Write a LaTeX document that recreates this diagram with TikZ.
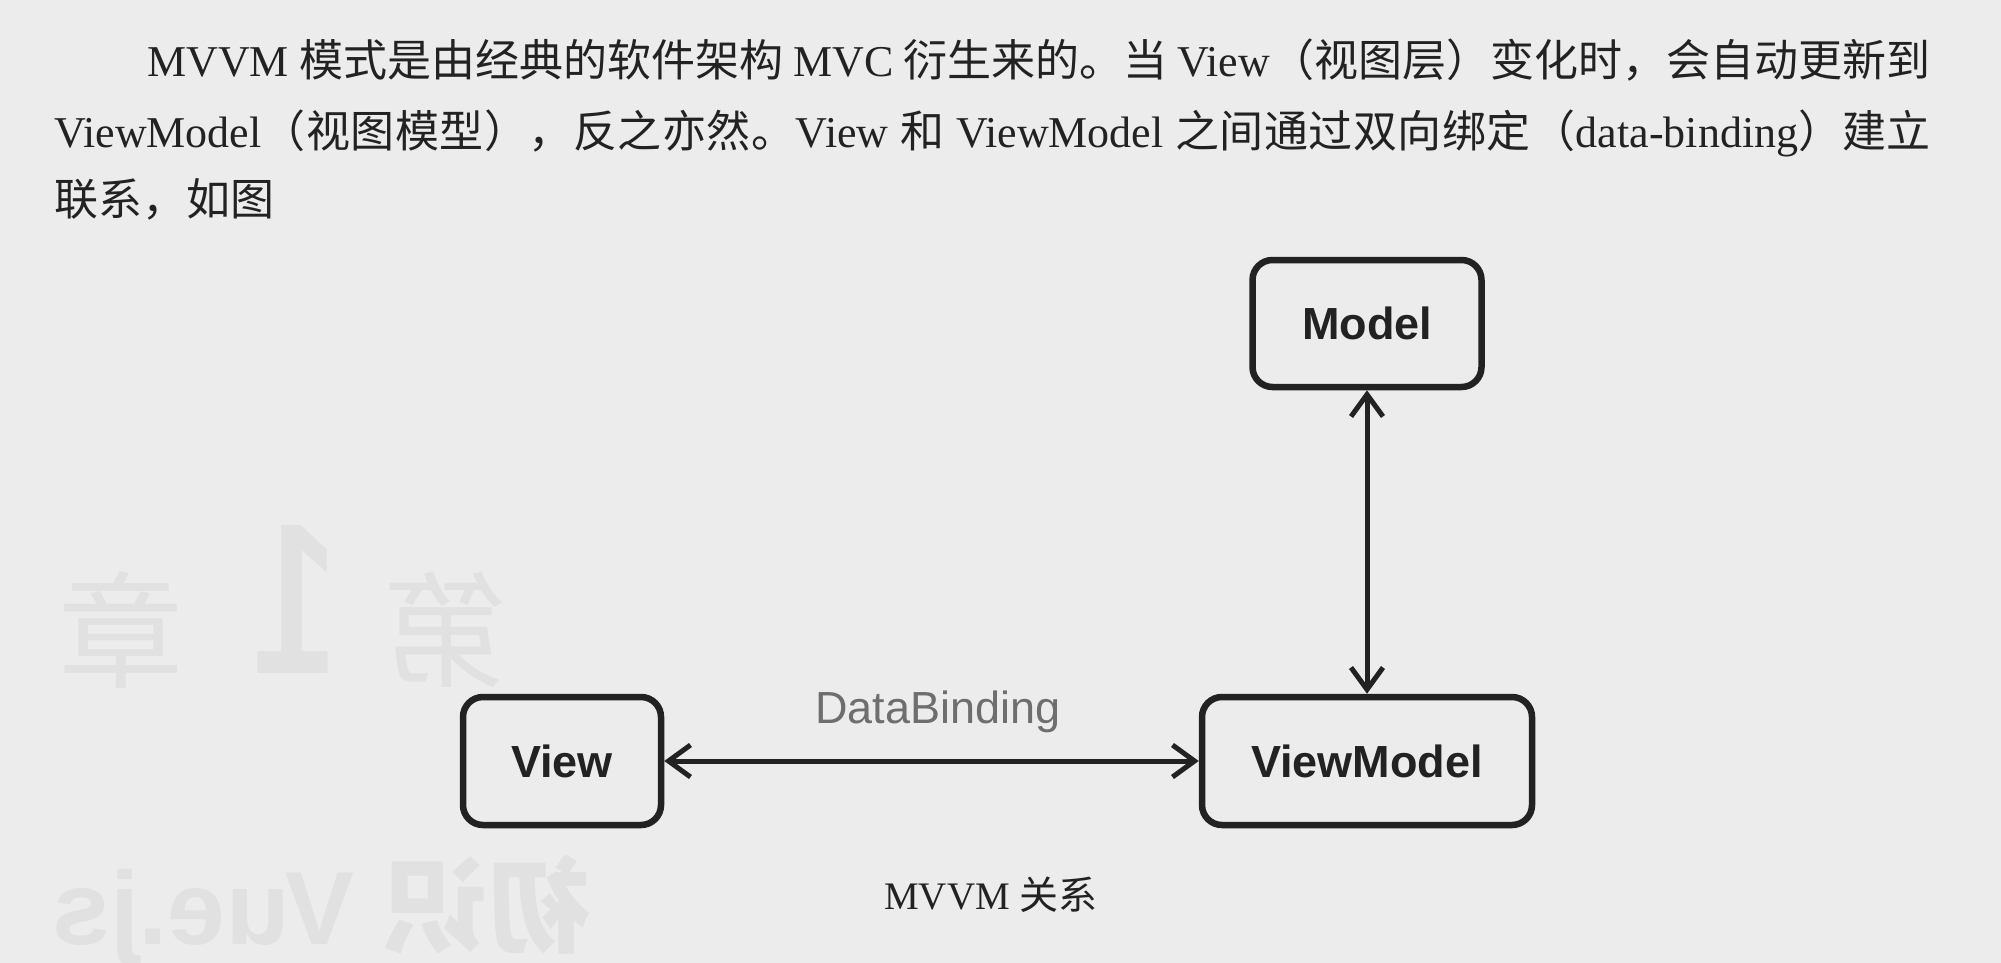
\documentclass[tikz,border=0pt]{standalone}
\usepackage{fontspec}
\setmainfont{Liberation Serif}
\newfontfamily\cjk{Noto Sans CJK SC}
\newfontfamily\hel{Liberation Sans}
\usetikzlibrary{arrows.meta}
% spread a run of CJK characters with stretchable glue between them
\def\cj#1{{\cjk\cjA#1\relax}}
\def\cjA#1{\ifx\relax#1\else#1\hskip0pt plus 6pt\relax\expandafter\cjA\fi}
\definecolor{paper}{RGB}{236,236,236}
\definecolor{ink}{RGB}{34,34,34}
\definecolor{ghost}{RGB}{225,225,225}
\definecolor{dbgray}{RGB}{110,110,110}
\begin{document}
\begin{tikzpicture}[x=1pt,y=-1pt,
  box/.style={draw=ink, line width=6.5pt, rounded corners=20pt,
    font=\hel\bfseries\fontsize{45pt}{54pt}\selectfont, text=ink, inner sep=0pt},
  link/.style={draw=ink, line width=5pt,
    {Straight Barb[length=22pt,width=32pt]}-{Straight Barb[length=22pt,width=32pt]}},
  body/.style={font=\fontsize{44pt}{50pt}\selectfont, text=ink, inner sep=0pt, anchor=base west},
  ghosttext/.style={text=ghost, inner sep=0pt, xscale=-1}
]
\fill[paper] (0,0) rectangle (2001,963);
\useasboundingbox (0,0) rectangle (2001,963);

% show-through from the back of the page (mirrored)
\node[ghosttext, font=\cjk\fontsize{125pt}{125pt}\selectfont] (g1) at (446,630) {第};
\node[ghosttext, xscale=0.7, font=\hel\bfseries\fontsize{215pt}{215pt}\selectfont] (g2) at (296,600) {1};
\node[ghosttext, font=\cjk\fontsize{125pt}{125pt}\selectfont] (g3) at (121,630) {章};
\node[ghosttext, font=\hel\bfseries\fontsize{104pt}{104pt}\selectfont, anchor=base] (g4) at (322,944) {{\cjk 初识} Vue.js};

% paragraph
\node[body] (l1) at (147,77) {\hbox to 1783pt{MVVM \cj{模式是由经典的软件架构} MVC \cj{衍生来的。当} View\cj{（视图层）变化时，会自动更新到}}};
\node[body] (l2) at (54,147) {\hbox to 1876pt{ViewModel\cj{（视图模型），反之亦然。}View \cj{和} ViewModel \cj{之间通过双向绑定（}data-binding{\cjk ）建立}}};
\node[body] (l3) at (54,215) {\cjk 联系，如图};

% diagram
\node[box, minimum width=229pt, minimum height=127pt] (model) at (1367,323.5) {Model};
\node[box, minimum width=330pt, minimum height=128pt] (vm) at (1367,761) {ViewModel};
\node[box, minimum width=198pt, minimum height=128pt] (view) at (562,761) {View};

\draw[link] (view) -- (vm);
\draw[link] (model) -- (vm);

\node[font=\hel\fontsize{45pt}{54pt}\selectfont, text=dbgray, anchor=base, inner sep=0pt] (db) at (938,723) {DataBinding};

% caption
\node[font=\fontsize{39pt}{45pt}\selectfont, text=ink, anchor=base, inner sep=0pt] (cap) at (991,909) {MVVM {\cjk 关系}};
\end{tikzpicture}
\end{document}
